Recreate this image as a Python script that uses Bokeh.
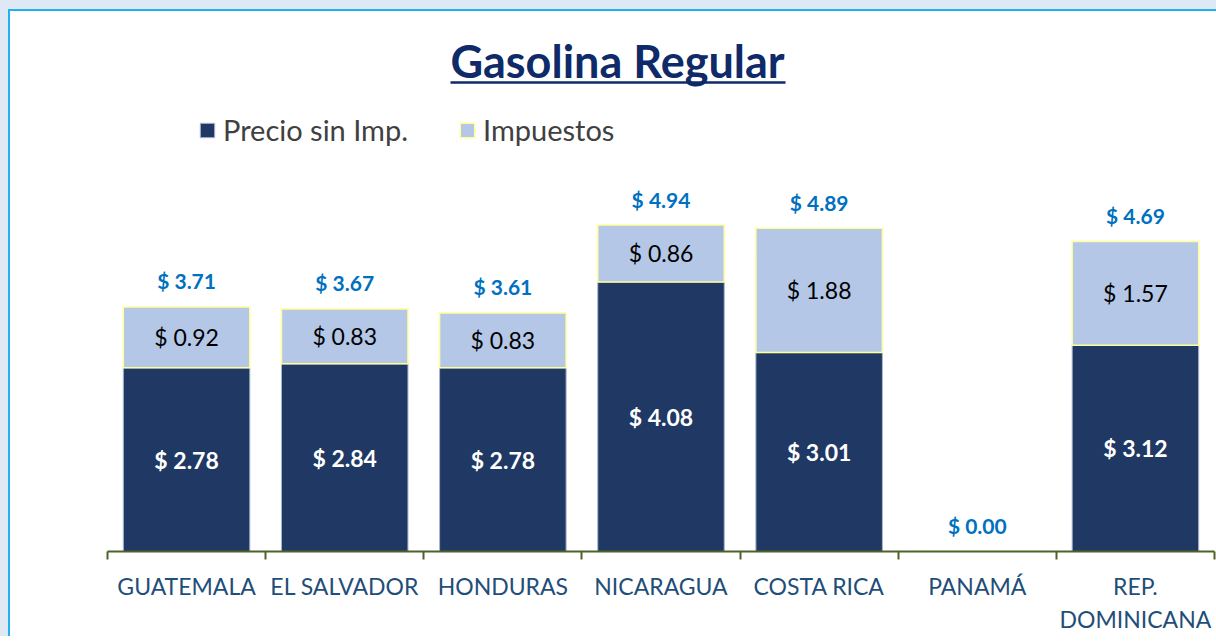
from bokeh.plotting import figure
from bokeh.models import (LinearAxis, FixedTicker, Legend, LegendItem, Label,
                          BoxAnnotation, ColumnDataSource, FactorRange, Range1d)
from bokeh.core.properties import value
from bokeh.embed import file_html
from bokeh.resources import INLINE

# ---------------- data ----------------
categories = ["GUATEMALA", "EL SALVADOR", "HONDURAS", "NICARAGUA",
              "COSTA RICA", "PANAMÁ", "REP. DOMINICANA"]
display_labels = ["GUATEMALA", "EL SALVADOR", "HONDURAS", "NICARAGUA",
                  "COSTA RICA", "PANAMÁ", "REP.\nDOMINICANA"]
precio_sin_imp = [2.78, 2.84, 2.78, 4.08, 3.01, 0.00, 3.12]
impuestos = [0.92, 0.83, 0.83, 0.86, 1.88, 0.00, 1.57]
totales = [3.71, 3.67, 3.61, 4.94, 4.89, 0.00, 4.69]
series_names = ["Precio sin Imp.", "Impuestos"]
title_text = "Gasolina Regular"

# ---------------- styles ----------------
DARK = "#203864"
LIGHT = "#b4c7e7"
YELLOW = "#ffff99"
NAVY_TITLE = "#0f2a68"
TOTAL_BLUE = "#0070c0"
CAT_COLOR = "#1f4e79"
AXIS_GREEN = "#4f6228"
PAGE_BG = "#dfe9f5"
BORDER_BLUE = "#22b0ef"
FONT = "Lato"

W, H = 1216, 636
LEFT, RIGHT, TOP, BOTTOM = 107, 2, 0, 84
frame_w = W - LEFT - RIGHT
frame_h = H - TOP - BOTTOM
PX_PER_UNIT = 66.2
y_end = frame_h / PX_PER_UNIT
n = len(categories)

p = figure(x_range=FactorRange(*categories, range_padding=0),
           y_range=Range1d(0, y_end),
           width=W, height=H, output_backend="svg", toolbar_location=None,
           x_axis_type=None, y_axis_type=None,
           min_border_left=LEFT, min_border_right=RIGHT,
           min_border_top=TOP, min_border_bottom=BOTTOM)
p.outline_line_color = None
p.xgrid.visible = False
p.ygrid.visible = False
# transparent canvas: the framed white chart area is painted by the host's CSS background
p.background_fill_color = None
p.border_fill_color = None
bg_layers = ", ".join([
    f"linear-gradient({PAGE_BG}, {PAGE_BG}) 0 0 / 100% 9px no-repeat",
    f"linear-gradient({PAGE_BG}, {PAGE_BG}) 0 0 / 8px 100% no-repeat",
    f"linear-gradient({BORDER_BLUE}, {BORDER_BLUE}) 0 9px / 100% 2px no-repeat",
    f"linear-gradient({BORDER_BLUE}, {BORDER_BLUE}) 8px 0 / 2px 100% no-repeat",
    "white",
])
p.styles = {"background": bg_layers}

# helpers converting canvas pixels to data coords (decorations only)
def px_to_x(px):
    return (px - LEFT) / frame_w * n

def px_to_y(py):
    return (TOP + frame_h - py) / PX_PER_UNIT

src = ColumnDataSource(dict(cat=categories, precio=precio_sin_imp, imp=impuestos,
                            total=totales))
rs = p.vbar_stack(["precio", "imp"], x="cat", width=0.8, source=src,
                  fill_color=[DARK, LIGHT], line_color=["#aab6cc", YELLOW],
                  line_width=[1, 1.5])

# inner labels
price_idx = [i for i in range(n) if precio_sin_imp[i] > 0]
tax_idx = [i for i in range(n) if impuestos[i] > 0]
p.text(x=[categories[i] for i in price_idx],
       y=[precio_sin_imp[i] / 2 for i in price_idx],
       text=[f"$ {precio_sin_imp[i]:.2f}" for i in price_idx],
       text_align="center", text_baseline="middle", text_color="white",
       text_font=value(FONT), text_font_style="bold", text_font_size="23px")
p.text(x=[categories[i] for i in tax_idx],
       y=[precio_sin_imp[i] + impuestos[i] / 2 for i in tax_idx],
       text=[f"$ {impuestos[i]:.2f}" for i in tax_idx],
       text_align="center", text_baseline="middle", text_color="black",
       text_font=value(FONT), text_font_size="23px")
# totals
p.text(x=categories, y=totales, text=[f"$ {t:.2f}" for t in totales],
       y_offset=-26, text_align="center", text_baseline="middle",
       text_color=TOTAL_BLUE, text_font=value(FONT), text_font_style="bold",
       text_font_size="21px")

# axis: labels at category centres, boundary ticks as minor ticks
centers = [i + 0.5 for i in range(n)]
bounds = list(range(n + 1))
ax = LinearAxis(ticker=FixedTicker(ticks=centers, minor_ticks=bounds),
                major_label_overrides={c: lab for c, lab in zip(centers, display_labels)})
ax.axis_line_color = AXIS_GREEN
ax.axis_line_width = 2
ax.major_tick_out = 0
ax.major_tick_in = 0
ax.minor_tick_out = 8
ax.minor_tick_in = 0
ax.minor_tick_line_color = AXIS_GREEN
ax.minor_tick_line_width = 2
ax.major_label_standoff = 12
ax.major_label_text_font = FONT
ax.major_label_text_font_size = "23px"
ax.major_label_text_color = CAT_COLOR
p.add_layout(ax, "below")

# title with underline
p.add_layout(Label(x=px_to_x(617), y=px_to_y(61), text=title_text,
                   text_align="center", text_baseline="middle",
                   text_font=FONT, text_font_style="bold", text_font_size="45px",
                   text_color=NAVY_TITLE))
p.add_layout(BoxAnnotation(left=px_to_x(450), right=px_to_x(785),
                           top=px_to_y(81), bottom=px_to_y(83.5),
                           fill_color=NAVY_TITLE, fill_alpha=1, line_color=None))

# legend
legend = Legend(items=[LegendItem(label=series_names[0], renderers=[rs[0]]),
                       LegendItem(label=series_names[1], renderers=[rs[1]])],
                orientation="horizontal", location=(198 - LEFT, TOP + frame_h - 148),
                padding=0, margin=0, spacing=50, border_line_color=None,
                background_fill_alpha=0, glyph_width=18, glyph_height=18,
                label_standoff=7, label_text_font=FONT, label_text_font_size="29px",
                label_text_color="#404040")
p.add_layout(legend)

open("out.html", "w").write(file_html(p, INLINE))
